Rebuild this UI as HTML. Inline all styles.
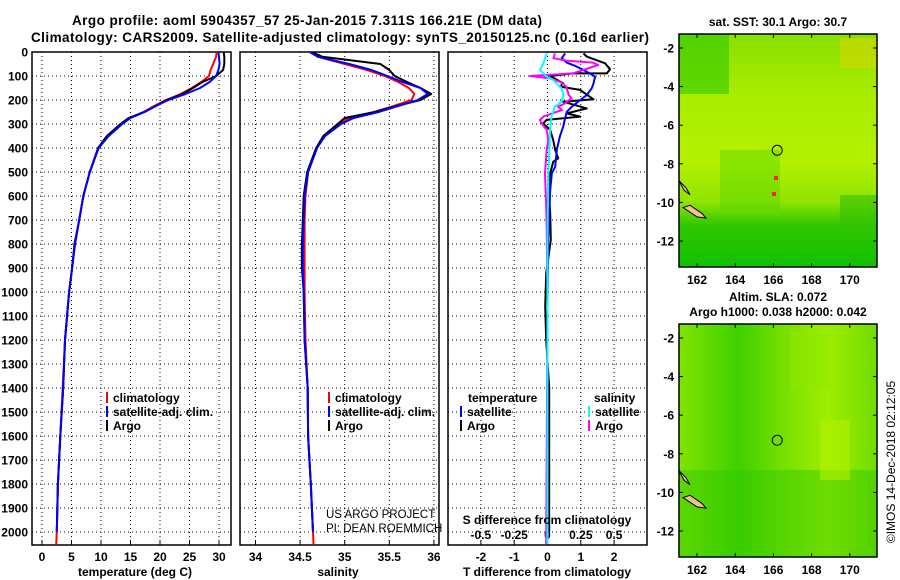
<!DOCTYPE html>
<html><head><meta charset="utf-8"><style>
html,body{margin:0;padding:0;background:#fff;}
svg{display:block;font-family:"Liberation Sans",sans-serif;}
.b{font-weight:bold;font-size:12px;}
</style></head><body>
<svg id="c" width="900" height="580" viewBox="0 0 900 580" xmlns="http://www.w3.org/2000/svg">
<defs>
<linearGradient id="sstg" x1="0" y1="0" x2="0" y2="1">
<stop offset="0" stop-color="#88e000"/><stop offset="0.25" stop-color="#a8ec00"/><stop offset="0.55" stop-color="#b4f000"/><stop offset="0.72" stop-color="#90e400"/><stop offset="0.82" stop-color="#30c800"/><stop offset="1" stop-color="#10c000"/>
</linearGradient>
<linearGradient id="slag" x1="0" y1="0" x2="1" y2="0">
<stop offset="0" stop-color="#80e400"/><stop offset="0.3" stop-color="#40d000"/><stop offset="0.5" stop-color="#70de00"/><stop offset="0.75" stop-color="#a0ee00"/><stop offset="1" stop-color="#70dc00"/>
</linearGradient>
<clipPath id="cp1"><rect x="32" y="52" width="199" height="493"/></clipPath>
<clipPath id="cp2"><rect x="240" y="52" width="199" height="493"/></clipPath>
<clipPath id="cp3"><rect x="448" y="52" width="199" height="493"/></clipPath>
</defs>
<text x="307" y="25" text-anchor="middle" class="b" style="font-size:13.5px" textLength="470">Argo profile: aoml 5904357_57 25-Jan-2015 7.311S 166.21E (DM data)</text>
<text x="340" y="42" text-anchor="middle" class="b" style="font-size:13.5px" textLength="618">Climatology: CARS2009. Satellite-adjusted climatology: synTS_20150125.nc (0.16d earlier)</text>
<g id="panels"></g>
<text x="135" y="576" text-anchor="middle" class="b">temperature (deg C)</text>
<text x="338" y="576" text-anchor="middle" class="b">salinity</text>
<text x="547" y="576" text-anchor="middle" class="b">T difference from climatology</text>
<text x="547" y="524" text-anchor="middle" class="b">S difference from climatology</text>
<text x="326" y="518" style="font-size:11.5px">US ARGO PROJECT</text>
<text x="326" y="532" style="font-size:11.5px">PI: DEAN ROEMMICH</text>
<text x="778" y="26" text-anchor="middle" class="b">sat. SST: 30.1 Argo: 30.7</text>
<g>
<rect x="679" y="34" width="198" height="233" fill="url(#sstg)"/>
<rect x="679" y="34" width="50" height="60" fill="#30c800" opacity="0.6"/>
<rect x="840" y="38" width="37" height="30" fill="#f0d000" opacity="0.45"/>
<rect x="720" y="150" width="60" height="60" fill="#50d400" opacity="0.4"/>
<rect x="840" y="195" width="37" height="35" fill="#30c000" opacity="0.6"/>
<rect x="774" y="176" width="4" height="4" fill="#ff2000"/>
<rect x="772" y="192" width="4" height="4" fill="#ff2000"/>
</g>
<g>
<rect x="679" y="324" width="198" height="233" fill="url(#slag)"/>
<rect x="679" y="470" width="198" height="87" fill="#30c800" opacity="0.45"/>
<rect x="820" y="420" width="30" height="60" fill="#b0f000" opacity="0.6"/>
<rect x="790" y="330" width="40" height="60" fill="#90e800" opacity="0.5"/>
</g>
<g id="maps"></g>
<text transform="translate(895,462) rotate(-90)" text-anchor="middle" style="font-size:12px">©IMOS 14-Dec-2018 02:12:05</text>
<text x="778" y="301" text-anchor="middle" class="b">Altim. SLA: 0.072</text>
<text x="778" y="316" text-anchor="middle" class="b">Argo h1000: 0.038 h2000: 0.042</text>
</svg>
<script>
const depths = [0,20,50,75,100,125,150,175,200,225,250,275,300,350,400,500,600,700,800,900,1000,1200,1400,1600,1800,2000,2050];
const tempClim = [29.6,29.5,29.0,28.6,28.3,27.0,25.4,23.5,21.0,19.0,17.2,14.8,13.5,11.2,9.6,8.1,7.0,6.3,5.6,5.1,4.6,3.9,3.5,3.1,2.7,2.5,2.4];
const tempSat = [29.9,30.0,30.1,29.9,29.5,28.4,26.8,24.3,21.4,19.3,17.4,15.0,13.6,11.3,9.6,8.1,7.0,6.3,5.6,5.1,4.6,3.9,3.6,3.1,2.7,2.5];
const tempArgo = [30.8,30.9,30.9,30.7,29.5,27.2,25.6,23.8,21.2,19.3,17.3,14.7,13.3,11.0,9.5,8.1,7.0,6.3,5.5,5.1,4.6,3.9,3.6,3.1,2.7,2.5];
const salClim = [34.61,34.70,35.0,35.25,35.45,35.6,35.72,35.78,35.75,35.55,35.33,35.05,34.93,34.77,34.69,34.59,34.56,34.55,34.55,34.55,34.55,34.56,34.585,34.59,34.62,34.645,34.65];
const salSat = [34.61,34.70,35.05,35.3,35.48,35.65,35.85,35.93,35.82,35.6,35.38,35.1,34.96,34.78,34.69,34.59,34.55,34.54,34.53,34.53,34.54,34.55,34.585,34.59,34.62,34.645];
const salArgo = [34.63,34.75,35.4,35.5,35.56,35.7,35.85,35.97,35.85,35.58,35.34,35.0,34.92,34.76,34.68,34.58,34.54,34.53,34.52,34.52,34.54,34.55,34.585,34.59,34.62,34.645];
const dtArgoDepth = [6,19,47,72,89,89,100,131,144,158,197,207,235,256,269,283,297,325,367,408,443,457,506,603,672,783,922,1061,1200,1400,1700,2000];
const dtArgo = [1.08,1.18,1.73,1.88,1.78,0.77,0.08,0.47,0.37,0.98,1.38,0.47,1.18,0.58,0.98,-0.03,-0.13,0.08,0.17,0.23,0.32,0.17,0.08,0.05,0.08,0.1,-0.04,-0.07,-0.04,0.05,0.05,0.05];
const dtSatDepth = [6,26,44,61,82,103,131,151,179,207,228,249,276,311,353,408,478,506,575,783,1061,2050];
const dtSat = [0.53,0.43,0.58,0.88,1.18,1.43,1.38,1.33,1.18,0.92,0.73,0.58,0.53,0.47,0.37,0.28,0.23,0.13,0.08,0.02,0,0];
const dsArgoDepth = [6,26,36,44,54,89,100,110,124,144,179,193,214,228,242,249,269,283,297,325,367,408,506,644,728,1061,2050];
const dsArgo = [0.056,0.044,0.14,0.34,0.38,0.19,-0.13,0.019,0.094,0.14,0.16,0.18,0.13,0.08,0.11,0.069,-0.03,-0.056,-0.044,-0.006,0.006,-0.006,-0.019,-0.01,-0.006,0,-0.01];
const dsSatDepth = [6,26,47,75,89,103,117,131,151,179,207,228,269,325,408,506,783,2050];
const dsSat = [-0.006,-0.019,-0.031,-0.056,-0.031,-0.006,0.044,0.069,0.106,0.119,0.106,0.056,0.031,0.019,0.014,0.006,0,0];
const depthTicks = [0,100,200,300,400,500,600,700,800,900,1000,1100,1200,1300,1400,1500,1600,1700,1800,1900,2000];
const tempTicks = [0,5,10,15,20,25,30];
const salTicks = [34,34.5,35,35.5,36];
const dtTicks = [-2,-1,0,1,2];
const dsTicks = [-0.5,-0.25,0,0.25,0.5];
const lonTicks = [162,164,166,168,170];
const latTicks = [-2,-4,-6,-8,-10,-12];
const floatLon = 166.2, floatLat = -7.3;

const yD = d => 52 + 0.24*d;
const xT = t => 42 + 5.9*t;
const xS = s => 255.5 + 89.2*(s-34);
const xDT = t => 547.5 + 33.3*t;
const xDS = s => 547.5 + 133.3*s;
const mLon = l => 697 + 19.1*(l-162);
const mLatTop = l => 48 + 19.3*(-2-l);
const mLatBot = l => 338 + 19.3*(-2-l);

const NS = "http://www.w3.org/2000/svg";
const P = document.getElementById('panels');
const M = document.getElementById('maps');
function el(tag, attrs, parent){ const e=document.createElementNS(NS,tag); for(const k in attrs) e.setAttribute(k,attrs[k]); (parent||P).appendChild(e); return e; }

const panels = [{x0:32,clip:'cp1'},{x0:240,clip:'cp2'},{x0:448,clip:'cp3'}];
const xTickSets = [[tempTicks,xT],[salTicks,xS],[dtTicks,xDT]];
panels.forEach((p,i)=>{
  const g = el('g',{});
  
  
  depthTicks.forEach(d=>{
    const y=yD(d);
    const gl = el('line',{x1:p.x0,x2:p.x0+199,y1:y,y2:y,stroke:'#000','stroke-width':1,'stroke-dasharray':'1,3'},g);
    
    
  });
  const [ticks,fx]=xTickSets[i];
  ticks.forEach(t=>{
    const x=fx(t);
    const gl = el('line',{x1:x,x2:x,y1:52,y2:545,stroke:'#000','stroke-width':1,'stroke-dasharray':'1,3'},g);
    
    
    el('line',{x1:x,x2:x,y1:545,y2:540,stroke:'#000'},g);
    const tl = el('text',{x:x,y:561,'text-anchor':'middle','class':'b'},g);
    tl.textContent = String(t);
    
    
  });
  const fr = el('rect',{x:p.x0,y:52,width:199,height:493,fill:'none',stroke:'#000','stroke-width':1.5},g);
  
  
});
depthTicks.forEach(d=>{
  const t = el('text',{x:28,y:yD(d)+4.5,'text-anchor':'end','class':'b'});
  t.textContent = String(d);
  
  
});
dsTicks.forEach(s=>{
  const t = el('text',{x:xDS(s),y:539,'text-anchor':'middle','class':'b'});
  t.textContent = String(s);
  
  
});

function line(vals, dep, fx, color, clip, name, w){
  const pts = vals.map((v,i)=>fx(v).toFixed(1)+','+yD(dep[i]).toFixed(1)).join(' ');
  const pl = el('polyline',{points:pts,fill:'none',stroke:color,'stroke-width':w||2,'clip-path':'url(#'+clip+')','stroke-linejoin':'round'});
  
  
}
line(tempClim,depths,xT,'#ff0000','cp1','temp-climatology-line');
line(tempArgo,depths,xT,'#000','cp1','temp-argo-line');
line(tempSat,depths,xT,'#0000ff','cp1','temp-satellite-line');
line(salClim,depths,xS,'#ff0000','cp2','sal-climatology-line');
line(salArgo,depths,xS,'#000','cp2','sal-argo-line');
line(salSat,depths,xS,'#0000ff','cp2','sal-satellite-line');
line(dtArgo,dtArgoDepth,xDT,'#000','cp3','tdiff-argo-line');
line(dtSat,dtSatDepth,xDT,'#0000ff','cp3','tdiff-satellite-line');
line(dsArgo,dsArgoDepth,xDS,'#ff00ff','cp3','sdiff-argo-line');
line(dsSat,dsSatDepth,xDS,'#00ffff','cp3','sdiff-satellite-line');

function legend(x,y,color,label,name){
  const m = el('line',{x1:x,x2:x,y1:y-10,y2:y+1,stroke:color,'stroke-width':2});
  
  
  const t = el('text',{x:x+6,y:y,'class':'b'});
  t.textContent = label;
  
  
}
legend(107,402,'#ff0000','climatology','legend-temp-climatology');
legend(107,416,'#0000ff','satellite-adj. clim.','legend-temp-satellite');
legend(107,430,'#000','Argo','legend-temp-argo');
legend(329,402,'#ff0000','climatology','legend-sal-climatology');
legend(329,416,'#0000ff','satellite-adj. clim.','legend-sal-satellite');
legend(329,430,'#000','Argo','legend-sal-argo');
const lt = el('text',{x:468,y:402,'class':'b'}); lt.textContent='temperature';


const ls = el('text',{x:594,y:402,'class':'b'}); ls.textContent='salinity';


legend(461,416,'#0000ff','satellite','legend-tdiff-satellite');
legend(461,430,'#000','Argo','legend-tdiff-argo');
legend(589,416,'#00ffff','satellite','legend-sdiff-satellite');
legend(589,430,'#ff00ff','Argo','legend-sdiff-argo');

[[34,267,mLatTop,'sst'],[324,557,mLatBot,'sla']].forEach(([y0,y1,fy,nm])=>{
  const isl = el('polygon',{points:[[679,y0+(y1-y0)*0.63],[686,y0+(y1-y0)*0.66],[690,y0+(y1-y0)*0.69],[684,y0+(y1-y0)*0.67]].map(p=>p.join(',')).join(' '),fill:'#f0c090',stroke:'#000','stroke-width':1},M);
  
  
  const isl2 = el('polygon',{points:[[683,y0+(y1-y0)*0.745],[690,y0+(y1-y0)*0.735],[702,y0+(y1-y0)*0.77],[706,y0+(y1-y0)*0.79],[697,y0+(y1-y0)*0.785]].map(p=>p.join(',')).join(' '),fill:'#f0c090',stroke:'#000','stroke-width':1},M);
  
  
  const c = el('circle',{cx:mLon(floatLon),cy:fy(floatLat),r:5,fill:'none',stroke:'#000','stroke-width':1},M);
  
  
  const f = el('rect',{x:679,y:y0,width:198,height:y1-y0,fill:'none',stroke:'#000','stroke-width':1.5},M);
  
  
  lonTicks.forEach(l=>{
    const x=mLon(l);
    el('line',{x1:x,x2:x,y1:y1,y2:y1-4,stroke:'#000'},M);
    el('line',{x1:x,x2:x,y1:y0,y2:y0+4,stroke:'#000'},M);
    const t = el('text',{x:x,y:y1+17,'text-anchor':'middle','class':'b'},M);
    t.textContent=String(l);
    
    
  });
  latTicks.forEach(l=>{
    const y=fy(l);
    el('line',{x1:679,x2:683,y1:y,y2:y,stroke:'#000'},M);
    el('line',{x1:877,x2:873,y1:y,y2:y,stroke:'#000'},M);
    const t = el('text',{x:674,y:y+4.5,'text-anchor':'end','class':'b'},M);
    t.textContent=String(l);
    
    
  });
});
</script>
</body></html>
